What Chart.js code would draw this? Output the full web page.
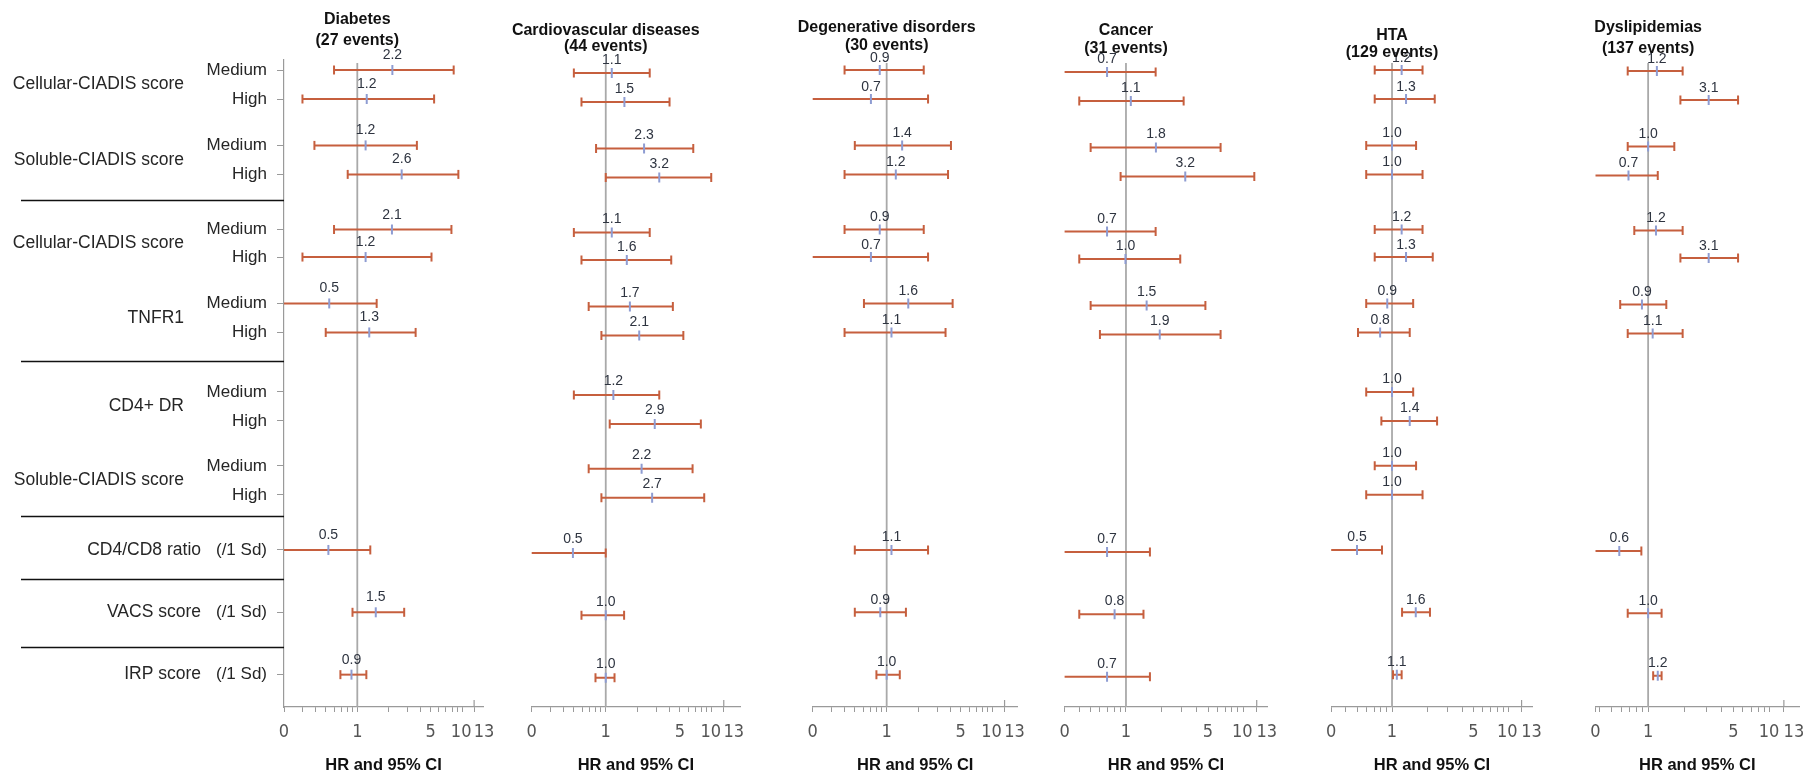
<!DOCTYPE html>
<html>
<head>
<meta charset="utf-8">
<script src="https://cdn.jsdelivr.net/npm/chart.js@4.4.1/dist/chart.umd.min.js"></script>
<style>
  html, body { margin: 0; padding: 0; background: #fff; }
  #wrap { position: relative; width: 1803px; height: 778px; }
  #wrap canvas { position: absolute; left: 0; top: 0; }
</style>
</head>
<body>
<div id="wrap"></div>
<script>
// Filas del forest plot (de arriba a abajo)
const rowLabels = ['Medium', 'High', 'Medium', 'High', 'Medium', 'High', 'Medium', 'High',
                   'Medium', 'High', 'Medium', 'High', '(/1 Sd)', '(/1 Sd)', '(/1 Sd)'];
// posicion vertical de cada fila (en "filas")
const rowPos = [1, 2, 3.6, 4.6, 6.5, 7.45, 9.05, 10.05, 12.1, 13.1, 14.65, 15.65, 17.55, 19.7, 21.85];
const groupNames = ['Cellular-CIADIS score', 'Soluble-CIADIS score', 'Cellular-CIADIS score', 'TNFR1',
                    'CD4+ DR', 'Soluble-CIADIS score', 'CD4/CD8 ratio', 'VACS score', 'IRP score'];
const groupRows = [[0, 1], [2, 3], [4, 5], [6, 7], [8, 9], [10, 11], [12], [13], [14]];
const separatorPos = [5.48, 11.03, 16.38, 18.55, 20.9];

const panelTitles = [
    ['Diabetes', '(27 events)'],
    ['Cardiovascular diseases', '(44 events)'],
    ['Degenerative disorders', '(30 events)'],
    ['Cancer', '(31 events)'],
    ['HTA', '(129 events)'],
    ['Dyslipidemias', '(137 events)']
];
const axisMin = [0.2, 0.2, 0.2, 0.3, 0.3, 0.37];
const axisMax = [15.8, 18.5, 17.3, 16, 16.2, 17.3];
const tickLabelText = ['0', '1', '5', '10', '13'];
const minorTicks = [0.2, 0.3, 0.4, 0.5, 0.6, 0.7, 0.8, 0.9, 1, 2, 3, 4, 5, 6, 7, 8, 9, 10, 13];

// [limite inferior, HR, limite superior] por fila; null = sin dato
const diabetes = [
    [0.60, 2.16, 8.3], [0.30, 1.23, 5.4], [0.39, 1.2, 3.7], [0.81, 2.65, 9.2],
    [0.60, 2.14, 7.9], [0.30, 1.2, 5.1], [0.15, 0.54, 1.53], [0.50, 1.3, 3.6],
    null, null, null, null,
    [0.15, 0.53, 1.33], [0.90, 1.5, 2.8], [0.69, 0.88, 1.22]
];
const cardiovascular = [
    [0.50, 1.14, 2.6], [0.59, 1.5, 4.0], [0.81, 2.3, 6.7], [1.0, 3.2, 9.9],
    [0.50, 1.14, 2.6], [0.59, 1.58, 4.15], [0.69, 1.69, 4.3], [0.91, 2.07, 5.4],
    [0.50, 1.18, 3.2], [1.09, 2.9, 7.9], [0.69, 2.18, 6.6], [0.91, 2.74, 8.5],
    [0.15, 0.49, 1.0], [0.59, 1.0, 1.49], [0.80, 1.0, 1.21]
];
const degenerative = [
    [0.40, 0.86, 2.24], [0.15, 0.71, 2.46], [0.50, 1.4, 4.05], [0.40, 1.22, 3.8],
    [0.40, 0.86, 2.24], [0.15, 0.71, 2.46], [0.61, 1.6, 4.2], [0.40, 1.11, 3.6],
    null, null, null, null,
    [0.50, 1.11, 2.46], [0.50, 0.87, 1.52], [0.80, 1.0, 1.33]
];
const cancer = [
    [0.25, 0.69, 1.79], [0.40, 1.1, 3.1], [0.50, 1.8, 6.4], [0.90, 3.2, 12.4],
    [0.25, 0.69, 1.79], [0.40, 0.99, 2.9], [0.50, 1.5, 4.75], [0.60, 1.94, 6.4],
    null, null, null, null,
    [0.25, 0.69, 1.6], [0.40, 0.8, 1.41], [0.25, 0.69, 1.6]
];
const hta = [
    [0.71, 1.21, 1.83], [0.71, 1.32, 2.33], [0.60, 1.0, 1.61], [0.60, 1.0, 1.83],
    [0.71, 1.21, 1.83], [0.71, 1.32, 2.24], [0.60, 0.91, 1.52], [0.51, 0.79, 1.42],
    [0.60, 1.0, 1.52], [0.81, 1.42, 2.44], [0.71, 1.0, 1.61], [0.60, 1.0, 1.83],
    [0.25, 0.5, 0.82], [1.22, 1.6, 2.12], [1.02, 1.1, 1.21]
];
const dyslipidemias = [
    [0.68, 1.18, 1.92], [1.84, 3.14, 5.47], [0.68, 1.0, 1.64], [0.30, 0.69, 1.2],
    [0.77, 1.16, 1.92], [1.84, 3.14, 5.47], [0.59, 0.89, 1.41], [0.68, 1.09, 1.92],
    null, null, null, null,
    [0.30, 0.58, 0.88], [0.68, 1.0, 1.29], [1.10, 1.2, 1.29]
];
const panelData = [diabetes, cardiovascular, degenerative, cancer, hta, dyslipidemias];

// Maquetacion
const W = 1803, H = 778;
const areaLeft = [284, 531.7, 812.7, 1064.6, 1331.2, 1595.5];
const areaRight = [483, 740, 1017.7, 1267.3, 1532.7, 1799];
const titleY1 = [20, 31, 27.5, 30.5, 36, 28];
const titleY2 = [41, 47, 45.5, 48.5, 53, 48.5];
const rowShift = [0, 3, 0, 2, 0, 1];      // los paneles del original no estan perfectamente alineados
const labelLift = [11, 9.5, 8.5, 9, 8.5, 8.5];
const plotTop = 60, plotBottom = 707;
const ROWPX = 29;
const tickLabelShift = [0, 0, 0, -1, 10];
const ORANGE = '#c65f3e';
const MARKER = '#8e9cd2';
const SANS = '"Liberation Sans", Arial, sans-serif';
const NARROW = '"Liberation Sans Narrow", "DejaVu Sans Condensed", "Liberation Sans", sans-serif';

const forestPlugin = {
    id: 'forest',
    beforeDatasetsDraw(chart) {
        const { ctx, chartArea, scales: { x } } = chart;
        const x1 = x.getPixelForValue(1);
        ctx.save();
        ctx.strokeStyle = '#a9a9a9';
        ctx.lineWidth = 1.8;
        ctx.beginPath();
        ctx.moveTo(x1, chartArea.top + 3);
        ctx.lineTo(x1, chartArea.bottom);
        ctx.stroke();
        ctx.restore();
    },
    afterDatasetsDraw(chart, args, opts) {
        const p = opts.panel;
        const { ctx, scales: { x, y } } = chart;
        ctx.save();
        ctx.font = '14px ' + SANS;
        ctx.fillStyle = '#2e3440';
        ctx.textAlign = 'center';
        ctx.textBaseline = 'alphabetic';
        panelData[p].forEach((r, i) => {
            if (!r) return;
            ctx.fillText(r[1].toFixed(1), x.getPixelForValue(r[1]), y.getPixelForValue(rowPos[i]) - labelLift[p]);
        });
        ctx.restore();
    },
    afterDraw(chart, args, opts) {
        const p = opts.panel;
        const { ctx, chartArea, scales: { x, y } } = chart;
        const x1 = x.getPixelForValue(1);
        ctx.save();

        // titulo del panel
        ctx.fillStyle = '#111';
        ctx.font = 'bold 16px ' + SANS;
        ctx.textAlign = 'center';
        ctx.textBaseline = 'middle';
        ctx.fillText(panelTitles[p][0], x1, titleY1[p]);
        ctx.fillText(panelTitles[p][1], x1, titleY2[p]);

        // marca alta en 13
        const x13 = x.getPixelForValue(13);
        ctx.strokeStyle = '#9a9a9a';
        ctx.lineWidth = 1.2;
        ctx.beginPath();
        ctx.moveTo(x13, chartArea.bottom);
        ctx.lineTo(x13, chartArea.bottom - 7);
        ctx.stroke();

        // etiquetas del eje x
        const tickVals = [axisMin[p], 1, 5, 10, 13];
        ctx.fillStyle = '#555';
        ctx.font = '18px ' + NARROW;
        tickVals.forEach((v, i) => {
            ctx.fillText(tickLabelText[i], x.getPixelForValue(v) + tickLabelShift[i], chartArea.bottom + 25);
        });
        ctx.fillStyle = '#111';
        ctx.font = 'bold 16.5px ' + SANS;
        ctx.fillText('HR and 95% CI', (chartArea.left + chartArea.right) / 2, chartArea.bottom + 58);

        // etiquetas de filas y separadores (solo primer panel)
        if (p === 0) {
            ctx.fillStyle = '#262626';
            ctx.font = '17px ' + SANS;
            ctx.textAlign = 'right';
            rowLabels.forEach((t, i) => ctx.fillText(t, 267, y.getPixelForValue(rowPos[i])));
            ctx.font = '17.5px ' + SANS;
            groupNames.forEach((name, g) => {
                const rs = groupRows[g];
                const py = rs.reduce((s, r) => s + y.getPixelForValue(rowPos[r]), 0) / rs.length;
                ctx.fillText(name, rs.length > 1 ? 184 : 201, py);
            });
            ctx.strokeStyle = '#111';
            ctx.lineWidth = 1.3;
            separatorPos.forEach(sp => {
                const py = Math.round(y.getPixelForValue(sp)) + 0.5;
                ctx.beginPath();
                ctx.moveTo(21, py);
                ctx.lineTo(chartArea.left, py);
                ctx.stroke();
            });
        }
        ctx.restore();
    }
};

function buildDatasets(rows, min) {
    const markers = [], caps = [], lines = [];
    rows.forEach((r, i) => {
        if (!r) return;
        const [lo, hr, hi] = r;
        const yy = rowPos[i];
        markers.push({ x: hr, y: yy });
        if (lo >= min) caps.push({ x: lo, y: yy });
        caps.push({ x: hi, y: yy });
        lines.push({
            label: 'CI ' + i,
            data: [{ x: lo, y: yy }, { x: hi, y: yy }],
            showLine: true,
            borderColor: ORANGE,
            borderWidth: 2,
            pointRadius: 0
        });
    });
    return [
        { label: 'HR', data: markers, pointStyle: 'line', pointRotation: 90, pointRadius: 5,
          pointBorderColor: MARKER, pointBorderWidth: 2, showLine: false },
        { label: 'CI limits', data: caps, pointStyle: 'line', pointRotation: 90, pointRadius: 4.5,
          pointBorderColor: ORANGE, pointBorderWidth: 2, showLine: false },
        ...lines
    ];
}

const wrap = document.getElementById('wrap');
panelData.forEach((rows, p) => {
    const canvas = document.createElement('canvas');
    canvas.width = W;
    canvas.height = H;
    wrap.appendChild(canvas);
    const min = axisMin[p], max = axisMax[p];
    const yTick = p === 0 ? 7 : 0;
    // fila 1 a 70 px; ROWPX px por fila
    const yMin = 1 - (70 + rowShift[p] - plotTop) / ROWPX;
    const yMax = 1 + (plotBottom - 70 - rowShift[p]) / ROWPX;
    new Chart(canvas.getContext('2d'), {
        type: 'scatter',
        data: { datasets: buildDatasets(rows, min) },
        options: {
            responsive: false,
            animation: false,
            events: [],
            layout: {
                autoPadding: false,
                padding: { left: areaLeft[p] - yTick, right: W - areaRight[p], top: plotTop, bottom: H - plotBottom - 5 }
            },
            plugins: { legend: { display: false }, tooltip: { enabled: false }, forest: { panel: p } },
            scales: {
                x: {
                    type: 'logarithmic', min: min, max: max,
                    border: { color: '#9a9a9a', width: 1.2 },
                    grid: { drawOnChartArea: false, tickLength: 5, color: '#9a9a9a' },
                    ticks: { display: false },
                    afterBuildTicks: s => { s.ticks = minorTicks.filter(v => v >= min).concat(min !== 0.2 && min !== 0.3 ? [min] : []).map(v => ({ value: v })); }
                },
                y: {
                    type: 'linear', reverse: true, min: yMin, max: yMax,
                    display: p === 0,
                    border: { color: '#9a9a9a', width: 1.2 },
                    grid: { drawOnChartArea: false, tickLength: 7, color: '#9a9a9a' },
                    ticks: { display: false },
                    afterBuildTicks: s => { s.ticks = rowPos.map(v => ({ value: v })); }
                }
            }
        },
        plugins: [forestPlugin]
    });
});
</script>
</body>
</html>
